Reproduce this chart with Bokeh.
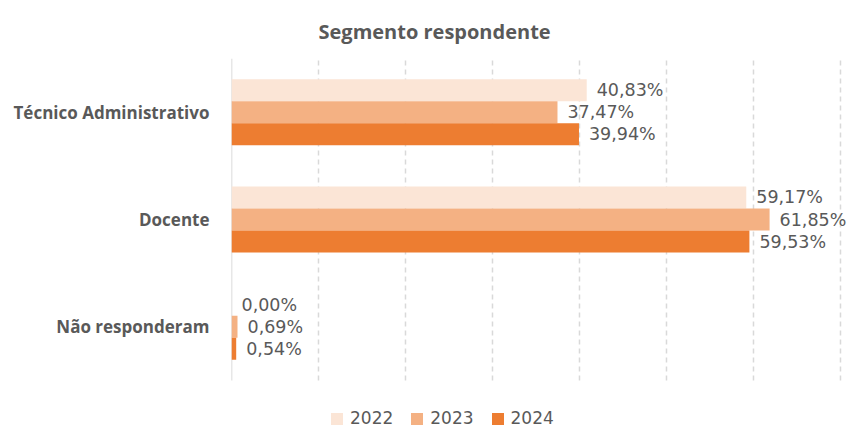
from bokeh.plotting import figure
from bokeh.models import ColumnDataSource, Range1d, FixedTicker, Legend, LegendItem, LabelSet
from bokeh.core.properties import value
from bokeh.embed import file_html
from bokeh.resources import INLINE

categories = ["Técnico Administrativo", "Docente", "Não responderam"]
years = ["2022", "2023", "2024"]
v2022 = [40.83, 59.17, 0.00]
v2023 = [37.47, 61.85, 0.69]
v2024 = [39.94, 59.53, 0.54]
x_ticks = [0, 10, 20, 30, 40, 50, 60, 70]

colors = ["#FBE5D6", "#F4B183", "#ED7D31"]
series = [v2022, v2023, v2024]
offsets = [0.205, 0.0, -0.205]
bar_h = 0.205

n = len(categories)
ypos = [n - i - 0.5 for i in range(n)]

p = figure(width=850, height=429, output_backend="svg", toolbar_location=None,
           x_range=Range1d(0, 71.15), y_range=Range1d(-0.4565, n),
           min_border_left=231, min_border_right=0, min_border_top=58, min_border_bottom=0)

p.title.text = "Segmento respondente"
p.title.align = "left"
p.title.offset = 87
p.title.text_font = "Open Sans"
p.title.text_font_size = "20px"
p.title.text_font_style = "bold"
p.title.text_color = "#595959"
p.title.standoff = 28

p.outline_line_color = None
p.background_fill_color = "white"
p.xgrid.visible = False
p.ygrid.visible = False
p.xaxis.visible = False

# vertical gridlines (dashed) and the category axis line, spanning the category area only
p.segment(x0=x_ticks[1:], y0=[0] * (len(x_ticks) - 1), x1=x_ticks[1:], y1=[n] * (len(x_ticks) - 1),
          line_color="#D9D9D9", line_dash="5 4", line_width=1.5)
p.segment(x0=[x_ticks[0]], y0=[0], x1=[x_ticks[0]], y1=[n], line_color="#D0D0D0", line_width=1.5)

items = []
for yr, vals, col, off in zip(years, series, colors, offsets):
    src = ColumnDataSource(dict(y=[y + off for y in ypos], v=vals,
                                lab=[("%.2f" % v).replace(".", ",") + "%" for v in vals]))
    r = p.hbar(y="y", right="v", left=0, height=bar_h,
               source=src, fill_color=col, line_color=None)
    items.append(LegendItem(label=yr, renderers=[r]))
    labels = LabelSet(x="v", y="y", text="lab", source=src,
                      x_offset=10, text_baseline="middle", text_font=value("DejaVu Sans"),
                      text_font_size="17.5px", text_color="#595959")
    p.add_layout(labels)

p.yaxis.ticker = FixedTicker(ticks=ypos)
p.yaxis.major_label_overrides = {float(y): c for y, c in zip(ypos, categories)}
p.yaxis.axis_line_color = None
p.yaxis.major_tick_line_color = None
p.yaxis.minor_tick_line_color = None
p.yaxis.major_label_standoff = 16
p.yaxis.major_label_text_font = "Open Sans"
p.yaxis.major_label_text_font_style = "bold"
p.yaxis.major_label_text_font_size = "17px"
p.yaxis.major_label_text_color = "#595959"

legend = Legend(items=items, orientation="horizontal", location=(98, 1),
                label_text_font="DejaVu Sans", label_text_font_size="17px",
                label_text_color="#595959", border_line_color=None,
                background_fill_alpha=0,
                glyph_width=15, glyph_height=15, spacing=16, label_standoff=6,
                padding=3, margin=0)
p.add_layout(legend)

open("out.html", "w").write(file_html(p, INLINE))
